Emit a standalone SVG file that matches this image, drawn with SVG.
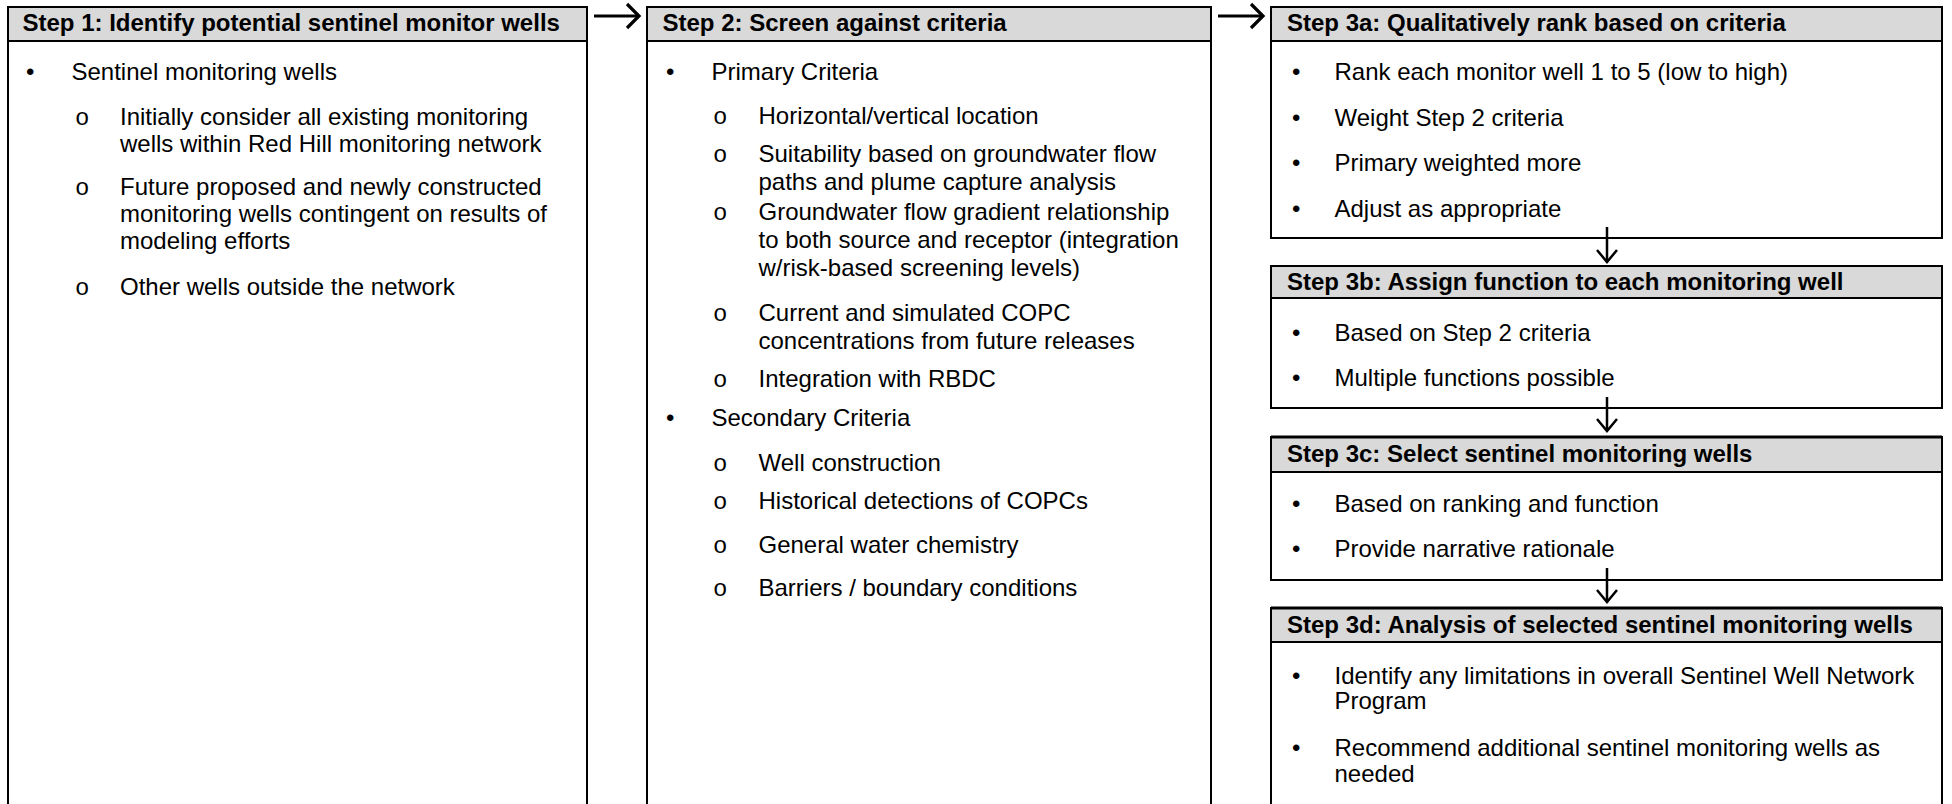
<svg xmlns="http://www.w3.org/2000/svg" width="1952" height="804" viewBox="0 0 1952 804">
<style>
.box{fill:#ffffff;stroke:#000000;stroke-width:2}
.hd{fill:#d9d9d9;stroke:#000000;stroke-width:2}
.ht{font-family:"Liberation Sans",Arial,sans-serif;font-size:24px;font-weight:bold;fill:#000000}
.t{font-family:"Liberation Sans",Arial,sans-serif;font-size:24px;fill:#000000}
.b{font-family:"Liberation Sans",Arial,sans-serif;font-size:24px;fill:#000000}
.o{font-family:"Liberation Mono","Courier New",monospace;font-size:24px;fill:#000000}
.ln{fill:none;stroke:#000000;stroke-width:2.5}
.lh{fill:none;stroke:#000000;stroke-width:3.2}
</style>
<rect x="0" y="0" width="1952" height="804" fill="#ffffff"/>

<g id="step1">
<rect class="box" x="8" y="7" width="579" height="820"/>
<rect class="hd" x="8" y="7" width="579" height="34"/>
<text class="ht" x="22.5" y="31">Step 1: Identify potential sentinel monitor wells</text>
<text class="b" x="26" y="80">•</text><text class="t" x="71.5" y="80">Sentinel monitoring wells</text>
<text class="o" x="75" y="125">o</text><text class="t" x="120" y="125">Initially consider all existing monitoring</text>
<text class="t" x="120" y="152">wells within Red Hill monitoring network</text>
<text class="o" x="75" y="195">o</text><text class="t" x="120" y="195">Future proposed and newly constructed</text>
<text class="t" x="120" y="222">monitoring wells contingent on results of</text>
<text class="t" x="120" y="249">modeling efforts</text>
<text class="o" x="75" y="295">o</text><text class="t" x="120" y="295">Other wells outside the network</text>
</g>

<g id="step2">
<rect class="box" x="647" y="7" width="564" height="820"/>
<rect class="hd" x="647" y="7" width="564" height="34"/>
<text class="ht" x="662.5" y="31">Step 2: Screen against criteria</text>
<text class="b" x="666" y="80">•</text><text class="t" x="711.5" y="80">Primary Criteria</text>
<text class="o" x="713" y="124">o</text><text class="t" x="758.5" y="124">Horizontal/vertical location</text>
<text class="o" x="713" y="162">o</text><text class="t" x="758.5" y="162">Suitability based on groundwater flow</text>
<text class="t" x="758.5" y="190">paths and plume capture analysis</text>
<text class="o" x="713" y="220">o</text><text class="t" x="758.5" y="220">Groundwater flow gradient relationship</text>
<text class="t" x="758.5" y="248">to both source and receptor (integration</text>
<text class="t" x="758.5" y="276">w/risk-based screening levels)</text>
<text class="o" x="713" y="321">o</text><text class="t" x="758.5" y="321">Current and simulated COPC</text>
<text class="t" x="758.5" y="349">concentrations from future releases</text>
<text class="o" x="713" y="387">o</text><text class="t" x="758.5" y="387">Integration with RBDC</text>
<text class="b" x="666" y="426">•</text><text class="t" x="711.5" y="426">Secondary Criteria</text>
<text class="o" x="713" y="471">o</text><text class="t" x="758.5" y="471">Well construction</text>
<text class="o" x="713" y="509">o</text><text class="t" x="758.5" y="509">Historical detections of COPCs</text>
<text class="o" x="713" y="553">o</text><text class="t" x="758.5" y="553">General water chemistry</text>
<text class="o" x="713" y="596">o</text><text class="t" x="758.5" y="596">Barriers / boundary conditions</text>
</g>

<g id="step3a">
<rect class="box" x="1271" y="7" width="671" height="231"/>
<rect class="hd" x="1271" y="7" width="671" height="34"/>
<text class="ht" x="1287" y="31">Step 3a: Qualitatively rank based on criteria</text>
<text class="b" x="1292" y="80">•</text><text class="t" x="1334.5" y="80">Rank each monitor well 1 to 5 (low to high)</text>
<text class="b" x="1292" y="126">•</text><text class="t" x="1334.5" y="126">Weight Step 2 criteria</text>
<text class="b" x="1292" y="171">•</text><text class="t" x="1334.5" y="171">Primary weighted more</text>
<text class="b" x="1292" y="217">•</text><text class="t" x="1334.5" y="217">Adjust as appropriate</text>
</g>

<g id="step3b">
<rect class="box" x="1271" y="266" width="671" height="142"/>
<rect class="hd" x="1271" y="266" width="671" height="32"/>
<text class="ht" x="1287" y="290">Step 3b: Assign function to each monitoring well</text>
<text class="b" x="1292" y="341">•</text><text class="t" x="1334.5" y="341">Based on Step 2 criteria</text>
<text class="b" x="1292" y="386">•</text><text class="t" x="1334.5" y="386">Multiple functions possible</text>
</g>

<g id="step3c">
<rect class="box" x="1271" y="437" width="671" height="143"/>
<rect class="hd" x="1271" y="437" width="671" height="35"/>
<line x1="1271" y1="437" x2="1942" y2="437" stroke="#000" stroke-width="3"/>
<text class="ht" x="1287" y="462">Step 3c: Select sentinel monitoring wells</text>
<text class="b" x="1292" y="512">•</text><text class="t" x="1334.5" y="512">Based on ranking and function</text>
<text class="b" x="1292" y="557">•</text><text class="t" x="1334.5" y="557">Provide narrative rationale</text>
</g>

<g id="step3d">
<rect class="box" x="1271" y="608" width="671" height="220"/>
<rect class="hd" x="1271" y="608" width="671" height="34"/>
<line x1="1271" y1="608" x2="1942" y2="608" stroke="#000" stroke-width="3"/>
<text class="ht" x="1287" y="633">Step 3d: Analysis of selected sentinel monitoring wells</text>
<text class="b" x="1292" y="684">•</text><text class="t" x="1334.5" y="684">Identify any limitations in overall Sentinel Well Network</text>
<text class="t" x="1334.5" y="709">Program</text>
<text class="b" x="1292" y="756">•</text><text class="t" x="1334.5" y="756">Recommend additional sentinel monitoring wells as</text>
<text class="t" x="1334.5" y="782">needed</text>
</g>

<g id="connectors">
<line class="lh" x1="594" y1="16" x2="637" y2="16"/>
<polyline class="lh" points="627,4 639,16 627,28"/>
<line class="lh" x1="1218" y1="16" x2="1261" y2="16"/>
<polyline class="lh" points="1251,4 1263,16 1251,28"/>
<line class="ln" x1="1607" y1="227" x2="1607" y2="261"/>
<polyline class="ln" points="1597,250 1607,262 1617,250"/>
<line class="ln" x1="1607" y1="397" x2="1607" y2="430"/>
<polyline class="ln" points="1597,419 1607,431 1617,419"/>
<line class="ln" x1="1607" y1="568" x2="1607" y2="601"/>
<polyline class="ln" points="1597,590 1607,602 1617,590"/>
</g>
</svg>
